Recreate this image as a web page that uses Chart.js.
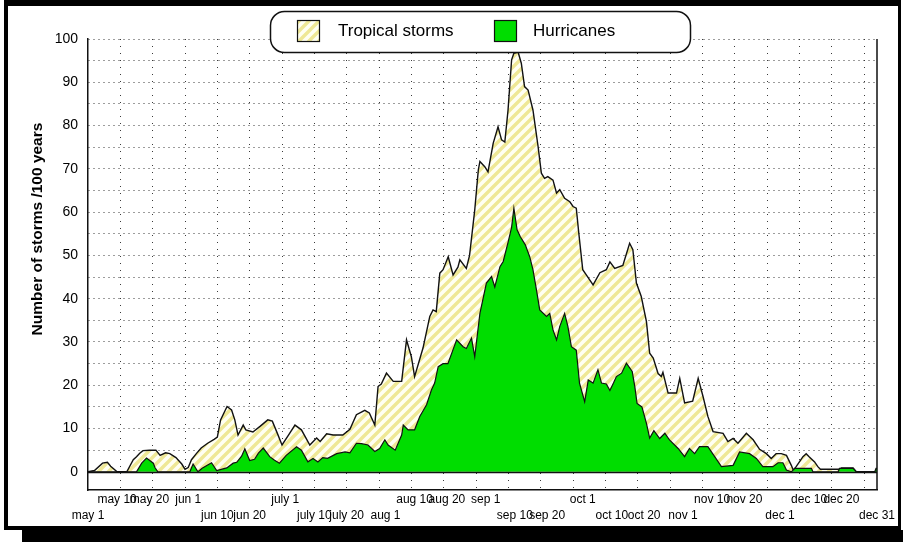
<!DOCTYPE html>
<html>
<head>
<meta charset="utf-8">
<title>Atlantic storm frequency by date</title>
<script src="https://cdn.jsdelivr.net/npm/chart.js@4.4.1/dist/chart.umd.min.js"></script>
<style>
  html, body { margin: 0; padding: 0; background: #fff; }
  body { position: relative; width: 903px; height: 542px; overflow: hidden; }
  .frame {
    position: absolute; left: 4px; top: 0; width: 897px; height: 530px;
    box-sizing: border-box;
    border-top: 6px solid #000; border-left: 4px solid #000;
    border-right: 3px solid #000; border-bottom: 4px solid #000;
  }
  .shadow { position: absolute; left: 22px; top: 530px; width: 881px; height: 12px; background: #000; }
  #chart { position: absolute; left: 0; top: 0; }
</style>
</head>
<body>
<div class="frame"></div>
<div class="shadow"></div>
<canvas id="chart" width="903" height="542"></canvas>
<script>
// Day index: 0 = May 1 ... 244 = Dec 31. Rates are storms per 100 years.
const stormDays = [0, 2, 4.5, 6, 7, 9, 12, 14, 15, 16, 17, 19, 21, 22.3, 24, 25.3, 27.2, 29, 30, 31,
  32, 33.5, 35, 37, 39, 40, 41, 43, 44.4, 45.4, 46.4, 48, 48.8, 51, 53.2, 55.6, 57, 58.5, 60, 62,
  64, 66, 68.6, 70.7, 71.8, 73.8, 75.8, 78.8, 81, 83, 85.6, 87, 88.7, 89.7, 90.7, 92.3, 94.4, 97, 98.5, 100,
  101, 103.6, 105.7, 106.7, 107.7, 108.8, 109.8, 111.4, 112.9, 114.4, 115, 117, 118, 119.6, 120.7, 121.2, 122.7, 123.7, 125.3, 126.8,
  127.9, 128.9, 129.9, 131, 131.7, 133, 134, 135, 136.1, 137.6, 139.2, 140.2, 141.2, 142.2, 143.8, 144.9, 145.9, 147.4, 149, 150,
  151, 151.8, 153, 154.1, 156.2, 158.3, 160.3, 161.4, 162.9, 165.4, 167.5, 168.5, 169.6, 171.1, 172.7, 173.7, 174.8, 176.3, 177.3, 177.8,
  179.4, 182, 183, 184.5, 187, 188.7, 190.2, 191.7, 193.3, 196.4, 197.9, 199.5, 201, 203.6, 205.7, 207.7, 209.8, 211.3, 212.8, 214.4,
  216, 217.5, 218.1, 219, 221.1, 222.1, 223, 224.7, 225.7, 226.5, 232.4, 233, 236.6, 237.6, 243.5, 244];
const stormCounts = [0, 0.3, 2, 2.2, 1.3, 0, 0, 2.8, 3.5, 4.3, 4.9, 5, 5, 3.8, 4.4, 4.2, 3.3, 1.8, 0.6, 1,
  2.8, 4.2, 5.5, 6.6, 7.5, 8, 12, 15.1, 14.3, 12, 8.5, 10.8, 9.7, 9.2, 10.5, 12, 11.7, 9, 6.2, 8.5,
  10.8, 9.7, 6.2, 7.8, 7, 8.8, 8.5, 8.5, 9.8, 13.2, 14.2, 13.6, 10.8, 19.7, 20.3, 22.8, 20.9, 20.9, 30.5, 26.6,
  22, 28.6, 35.9, 37.4, 37, 45.9, 46.7, 49.7, 45.5, 47.3, 49, 47, 50, 60.5, 69.7, 71.7, 70.5, 69.3, 75.9, 79.7,
  76.7, 76.2, 83.6, 95.2, 96.7, 97, 94.4, 89, 88.2, 83.6, 75.1, 69, 67.8, 68.2, 67.4, 64.4, 65.2, 63.2, 62.4, 61.3,
  60.9, 55, 46.7, 45.5, 43.2, 46, 46.7, 48.5, 47, 47.7, 52.8, 51.3, 43.6, 40.5, 34.7, 27.4, 26.3, 22.7, 22, 23,
  18.2, 18.2, 21.6, 15.9, 16.3, 21.6, 17.4, 12.8, 9.3, 8.9, 7, 7.7, 6.6, 8.9, 7.4, 5.2, 4.2, 3.1, 4.2, 4.2,
  3.8, 1.5, 0.4, 1.2, 3.5, 4.2, 3.5, 2.3, 1.2, 0.6, 0.6, 0.9, 0.9, 0, 0, 0.8];

const hurricaneDays = [0, 15, 16.6, 18.1, 20.2, 20.7, 21.6, 31.5, 32.5, 34, 35.3, 38.2, 39.8, 42.9, 44.9, 46, 47.5, 48.5, 50, 51.5,
  52.7, 54.2, 56.2, 57.7, 59.2, 61.3, 64.5, 66, 68, 69.6, 71.1, 72.6, 74.1, 76.9, 79.5, 81, 83, 84.6, 86.6, 88.7,
  90.2, 91.8, 92.8, 95, 97, 97.5, 99, 101, 102.6, 104.7, 106.2, 107.2, 108.3, 109.8, 111.3, 114, 116, 117, 118.6, 119.6,
  121.2, 123.2, 124.8, 125.8, 127.4, 128.4, 129.9, 131, 131.7, 132.7, 133.7, 135.2, 136.6, 137.6, 138.7, 139.7, 141.8, 142.8, 143.8, 144.9,
  145.9, 147.4, 148.4, 149.5, 151, 152, 153.6, 154.7, 156.2, 157.7, 158.8, 160.3, 161.4, 162.5, 163.4, 165, 166.5, 168.3, 169.1, 169.8,
  171.3, 172.7, 173.7, 175, 176.8, 178.4, 179.9, 182.5, 184.5, 186, 187.6, 189.1, 191.7, 193.8, 195.9, 199.5, 201.5, 204.6, 206.7, 208.7,
  211.8, 213.4, 214.9, 216, 217.5, 218.6, 223.7, 224.2, 232, 232.4, 236.6, 237.6, 243.3, 243.7, 244];
const hurricaneCounts = [0, 0, 2, 3.2, 2, 1, 0, 0, 1.8, 0, 0.8, 2.1, 0.3, 0.9, 2, 2.2, 3.6, 5.3, 2.6, 2.9,
  4.3, 5.5, 3.5, 2.7, 2, 3.8, 5.8, 5, 2.3, 3.1, 2.3, 3.3, 3.1, 4.2, 4.6, 4.4, 6.6, 6.5, 6.2, 4.7,
  5.4, 7.4, 6.2, 5, 8.5, 10.8, 9.7, 9.7, 12.8, 15.5, 18.9, 20.5, 24.3, 25, 25, 30.5, 28.9, 28.5, 30.9, 26.6,
  36.6, 43.6, 45.1, 42.7, 47.4, 48.6, 53, 56.5, 60.9, 55.9, 54.3, 52.5, 49.7, 46.7, 42, 37.4, 35.9, 36.6, 32.8, 30.5,
  33.6, 36.6, 33.6, 28.9, 28.1, 20.5, 16.2, 21.2, 20.5, 23.6, 20.5, 20.3, 18.8, 20.5, 22, 22.8, 25.1, 23.2, 19.7, 15.8,
  15, 11.2, 7.8, 9.5, 7.7, 8.9, 7.3, 5.4, 3.5, 5.4, 4.2, 5.8, 5.8, 3.5, 1.2, 1.5, 4.6, 4.2, 3.1, 1.2,
  1.2, 2.1, 2.1, 0.4, 0, 0.8, 0.8, 0, 0, 0.8, 0.8, 0, 0, 0.8, 0.8];

// Date labels along the bottom axis, staggered on two rows
const dateTickDays = [0, 9, 19, 31, 40, 50, 61, 70, 80, 92, 101, 111, 123, 132, 142, 153, 162, 172, 184, 193, 203, 214, 223, 233, 244];
const dateTickLabels = ['may 1', 'may 10', 'may 20', 'jun 1', 'jun 10', 'jun 20', 'july 1', 'july 10', 'july 20', 'aug 1',
  'aug 10', 'aug 20', 'sep 1', 'sep 10', 'sep 20', 'oct 1', 'oct 10', 'oct 20', 'nov 1', 'nov 10', 'nov 20', 'dec 1',
  'dec 10', 'dec 20', 'dec 31'];
const dateTickRow = [2, 1, 1, 1, 2, 2, 1, 2, 2, 2, 1, 1, 1, 2, 2, 1, 2, 2, 2, 1, 1, 2, 1, 1, 2];

// Vertical dotted grid every 10 days; horizontal grid every 5, labelled every 10
const gridDays = [10, 20, 30, 40, 50, 60, 70, 80, 90, 100, 110, 120, 130, 140, 150, 160, 170, 180, 190, 200, 210, 220, 230, 240];
const yGridValues = [0, 5, 10, 15, 20, 25, 30, 35, 40, 45, 50, 55, 60, 65, 70, 75, 80, 85, 90, 95, 100];

const FONT = '"Liberation Sans", Arial, Helvetica, sans-serif';
Chart.defaults.font.family = FONT;
Chart.defaults.color = '#000';

const canvas = document.getElementById('chart');
const ctx = canvas.getContext('2d');

// Pale yellow diagonal hatching for the tropical-storm area
function makeHatch() {
  const t = document.createElement('canvas');
  t.width = 10; t.height = 10;
  const g = t.getContext('2d');
  g.fillStyle = '#fffff2';
  g.fillRect(0, 0, 10, 10);
  g.strokeStyle = '#efe896';
  g.lineWidth = 3.4;
  g.beginPath();
  g.moveTo(-5, 5); g.lineTo(5, -5);
  g.moveTo(0, 10); g.lineTo(10, 0);
  g.moveTo(5, 15); g.lineTo(15, 5);
  g.stroke();
  return ctx.createPattern(t, 'repeat');
}
const hatch = makeHatch();
const GREEN = '#00dd00';

const toPoints = (xs, ys) => xs.map((x, i) => ({ x: x, y: ys[i] }));

const allXTicks = Array.from(new Set(dateTickDays.concat(gridDays))).sort((a, b) => a - b);

function roundedRect(c, x, y, w, h, r) {
  c.beginPath();
  c.moveTo(x + r, y);
  c.arcTo(x + w, y, x + w, y + h, r);
  c.arcTo(x + w, y + h, x, y + h, r);
  c.arcTo(x, y + h, x, y, r);
  c.arcTo(x, y, x + w, y, r);
  c.closePath();
}

// Solid zero line and right-hand frame of the plot
const plotFrame = {
  id: 'plotFrame',
  afterDatasetsDraw(chart) {
    const c = chart.ctx, a = chart.chartArea;
    const y0 = Math.round(chart.scales.y.getPixelForValue(0)) + 0.5;
    c.save();
    c.strokeStyle = '#111';
    c.lineWidth = 1.5;
    c.beginPath();
    c.moveTo(a.left, y0); c.lineTo(a.right, y0);
    c.moveTo(a.right, a.top); c.lineTo(a.right, a.bottom);
    c.stroke();
    c.restore();
  }
};

// Rotated axis title
const yTitle = {
  id: 'yTitle',
  afterDraw(chart) {
    const c = chart.ctx;
    c.save();
    c.translate(38, 229);
    c.rotate(-Math.PI / 2);
    c.font = 'bold 15.5px ' + FONT;
    c.fillStyle = '#000';
    c.textAlign = 'center';
    c.textBaseline = 'middle';
    c.fillText('Number of storms /100 years', 0, 0);
    c.restore();
  }
};

// Rounded legend box overlapping the top of the plot
const legendBox = {
  id: 'legendBox',
  afterDraw(chart) {
    const c = chart.ctx;
    const ds = chart.data.datasets;
    const storms = ds[1], hurricanes = ds[0];
    c.save();
    roundedRect(c, 270.5, 11.5, 420, 41, 14);
    c.fillStyle = '#fff';
    c.fill();
    c.lineWidth = 1.5;
    c.strokeStyle = '#111';
    c.stroke();
    const items = [
      { d: storms, sx: 297, tx: 338 },
      { d: hurricanes, sx: 494, tx: 533 }
    ];
    items.forEach(it => {
      c.fillStyle = it.d.backgroundColor;
      c.fillRect(it.sx, 20, 23, 22);
      c.lineWidth = 1.2;
      c.strokeStyle = '#111';
      c.strokeRect(it.sx + 0.5, 20.5, 22, 21);
      c.fillStyle = '#000';
      c.font = '17px ' + FONT;
      c.textBaseline = 'alphabetic';
      c.textAlign = 'left';
      c.fillText(it.d.label, it.tx, 35.5);
    });
    c.restore();
  }
};

new Chart(ctx, {
  type: 'line',
  data: {
    datasets: [
      {
        label: 'Hurricanes',
        data: toPoints(hurricaneDays, hurricaneCounts),
        fill: 'origin',
        backgroundColor: GREEN,
        borderColor: '#111',
        borderWidth: 1.2,
        pointRadius: 0,
        tension: 0,
        order: 0
      },
      {
        label: 'Tropical storms',
        data: toPoints(stormDays, stormCounts),
        fill: 'origin',
        backgroundColor: hatch,
        borderColor: '#111',
        borderWidth: 1.4,
        pointRadius: 0,
        tension: 0,
        order: 1
      }
    ]
  },
  options: {
    responsive: false,
    animation: false,
    devicePixelRatio: 1,
    events: [],
    layout: { padding: { top: 39, right: 26, bottom: 0, left: 0 } },
    plugins: {
      legend: { display: false },
      tooltip: { enabled: false },
      title: { display: false }
    },
    scales: {
      x: {
        type: 'linear',
        min: 0,
        max: 244,
        afterBuildTicks(scale) {
          scale.ticks = allXTicks.map(v => ({ value: v }));
        },
        afterFit(scale) { scale.height = 52; },
        ticks: {
          autoSkip: false,
          maxRotation: 0,
          minRotation: 0,
          padding: 2,
          font: { size: 12, lineHeight: 1.34 },
          color: '#000',
          callback(value) {
            const i = dateTickDays.indexOf(value);
            if (i < 0) return '';
            return dateTickRow[i] === 1 ? [dateTickLabels[i]] : ['', dateTickLabels[i]];
          }
        },
        grid: {
          drawTicks: false,
          lineWidth: 1,
          color(c) {
            return c.tick && gridDays.indexOf(c.tick.value) >= 0 ? '#3a3a3a' : 'rgba(0,0,0,0)';
          },
          borderDash: [1, 6]
        },
        border: { display: true, color: '#111', width: 1.5, dash: [1, 6] }
      },
      y: {
        type: 'linear',
        min: -4.2,
        max: 100,
        afterBuildTicks(scale) {
          scale.ticks = yGridValues.map(v => ({ value: v }));
        },
        afterFit(scale) { scale.width = 88; },
        ticks: {
          padding: 10,
          font: { size: 14 },
          color: '#000',
          callback(value) { return value % 10 === 0 ? String(value) : ''; }
        },
        grid: {
          drawTicks: false,
          lineWidth: 1,
          color(c) {
            return c.tick && c.tick.value !== 0 ? '#3a3a3a' : 'rgba(0,0,0,0)';
          },
          borderDash: [1, 4]
        },
        border: { display: true, color: '#111', width: 1.5, dash: [1, 4] }
      }
    }
  },
  plugins: [plotFrame, yTitle, legendBox]
});
</script>
</body>
</html>
